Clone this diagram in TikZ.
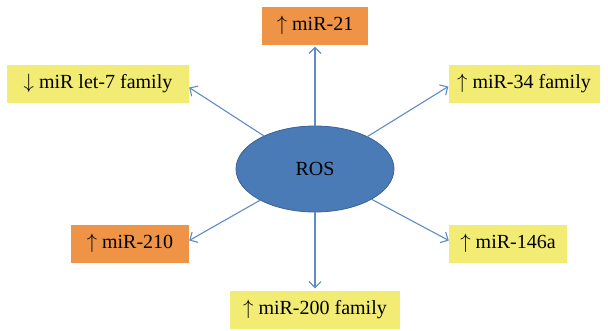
\documentclass[tikz,border=0pt]{standalone}
\usepackage{fontspec}
\setmainfont{Liberation Serif}
\usetikzlibrary{shapes.geometric,arrows.meta}
\definecolor{rosfill}{HTML}{4A7BB6}
\definecolor{rosedge}{HTML}{3A6393}
\definecolor{linkblue}{HTML}{5D8CC8}
\definecolor{orangebox}{HTML}{EF9347}
\definecolor{yellowbox}{HTML}{F2EC74}
\newcommand{\upar}{$\uparrow$}
\newcommand{\dnar}{$\downarrow$}
\tikzset{
  mirbox/.style={rectangle, inner sep=0pt, minimum height=38pt, font=\fontsize{20}{22}\selectfont, text=black},
  upbox/.style={mirbox, fill=orangebox},
  ybox/.style={mirbox, fill=yellowbox},
  link/.style={draw=linkblue, line width=1.1pt, -{Straight Barb[length=6pt,width=12pt]}},
}
\begin{document}
\begin{tikzpicture}[x=1pt,y=-1pt]
\useasboundingbox (0,0) rectangle (608,330);
\node[ellipse, fill=rosfill, draw=rosedge, line width=0.8pt, minimum width=158pt, minimum height=86pt, inner sep=0pt, font=\fontsize{20}{22}\selectfont] (ros) at (315,169) {ROS};
\node[upbox, minimum width=106pt] (m21) at (315,25.5) {\upar\ miR-21};
\node[ybox, minimum width=182pt] (let7) at (98,83.5) {\dnar\ miR let-7 family};
\node[ybox, minimum width=151pt] (m34) at (524,83.5) {\upar\ miR-34 family};
\node[upbox, minimum width=118pt] (m210) at (130,243.5) {\upar\ miR-210};
\node[ybox, minimum width=118pt] (m146) at (508,243.5) {\upar\ miR-146a};
\node[ybox, minimum width=170pt] (m200) at (315,309.5) {\upar\ miR-200 family};
\draw[link, shorten >=2pt] (ros) -- (m21);
\draw[link] (ros) -- ([yshift=-4pt]let7.east);
\draw[link] (ros) -- ([yshift=-3pt]m34.west);
\draw[link] (ros) -- ([yshift=3pt]m210.east);
\draw[link] (ros) -- ([yshift=3pt]m146.west);
\draw[link, shorten >=2pt] (ros) -- (m200);
\end{tikzpicture}
\end{document}
